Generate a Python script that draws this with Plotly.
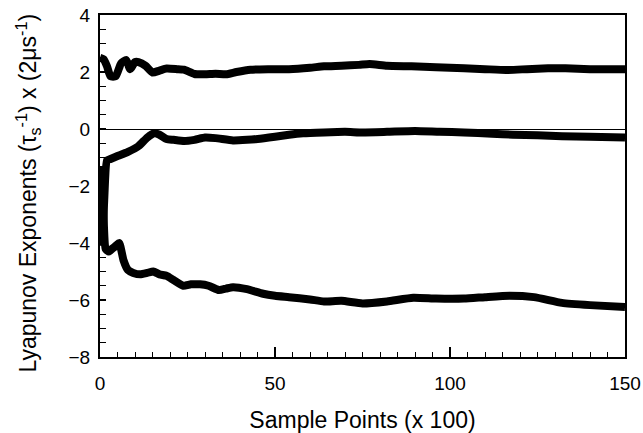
import plotly.graph_objects as go

# Sample index (x 100) and the three Lyapunov exponent estimates
x_l1 = [0, 1, 2, 3, 4.5, 6, 7.5, 8.6, 10, 11, 13, 15, 17, 19, 22, 24, 27, 30, 33, 36,
        39, 43, 48, 54, 60, 64, 69, 74, 77, 82, 89, 96, 104, 110, 116, 122, 128, 133, 140, 150]
y_l1 = [2.5, 2.45, 2.2, 1.85, 1.85, 2.3, 2.42, 2.1, 2.35, 2.35, 2.22, 1.98, 2.05, 2.12, 2.1,
        2.08, 1.93, 1.92, 1.94, 1.92, 2.0, 2.08, 2.1, 2.1, 2.15, 2.2, 2.22, 2.25, 2.28, 2.22,
        2.2, 2.17, 2.13, 2.1, 2.07, 2.1, 2.13, 2.13, 2.1, 2.1]

x_l2 = [0.6, 1.2, 2.0, 3, 5, 8, 11, 13.5, 15.5, 17, 19, 21, 24, 27, 30, 33, 38, 42, 45, 50,
        54, 58, 64, 70, 75, 82, 90, 97, 104, 112, 118, 125, 132, 140, 150]
y_l2 = [-4.1, -2.5, -1.1, -1.05, -0.95, -0.8, -0.6, -0.3, -0.15, -0.2, -0.35, -0.38, -0.42,
        -0.38, -0.3, -0.32, -0.4, -0.38, -0.35, -0.27, -0.2, -0.15, -0.12, -0.1, -0.12, -0.1,
        -0.07, -0.1, -0.12, -0.17, -0.2, -0.22, -0.25, -0.27, -0.3]

x_l3 = [0.6, 1.0, 1.6, 2.5, 3.5, 4.5, 5.5, 6.7, 8, 9.5, 11.5, 13.5, 15.2, 17, 19, 21, 23.8,
        26, 28.6, 31, 34, 36, 38, 42, 46.6, 50, 54, 60, 64, 69, 75, 82, 89.5, 96, 104, 110,
        117, 124, 132, 140, 150]
y_l3 = [-1.3, -3.0, -4.2, -4.3, -4.2, -4.1, -4.0, -4.6, -4.95, -5.05, -5.1, -5.05, -5.0,
        -5.1, -5.15, -5.3, -5.5, -5.45, -5.45, -5.5, -5.65, -5.6, -5.55, -5.62, -5.78, -5.85,
        -5.9, -5.98, -6.05, -6.03, -6.12, -6.05, -5.92, -5.95, -5.95, -5.9, -5.85, -5.9,
        -6.1, -6.18, -6.25]

x_ticks = [0, 50, 100, 150]
y_ticks = [4, 2, 0, -2, -4, -6, -8]

FONT = "Liberation Sans, Arial, sans-serif"
Y_TITLE = "Lyapunov Exponents (τ<sub>s</sub><sup>-1</sup>) x (2μs<sup>-1</sup>)"

fig = go.Figure()
for xs, ys in [(x_l1, y_l1), (x_l2, y_l2), (x_l3, y_l3)]:
    fig.add_trace(go.Scatter(x=xs, y=ys, mode="lines",
                             line=dict(color="black", width=8,
                                       shape="spline", smoothing=0.5),
                             showlegend=False))

fig.update_layout(
    width=643, height=433,
    margin=dict(l=100, r=18, t=15, b=76),
    paper_bgcolor="white", plot_bgcolor="white",
    font=dict(family=FONT, color="black", size=19),
)
fig.update_xaxes(
    range=[0, 150], tickvals=x_ticks, ticks="inside", ticklen=10, tickwidth=1.5,
    tickcolor="black", showline=True, linecolor="black", linewidth=2, mirror=True,
    showgrid=False, zeroline=False, ticklabelstandoff=8, automargin=False,
    minor=dict(dtick=5, ticks="inside", ticklen=5, tickwidth=1.2, tickcolor="black"),
    title=dict(text="Sample Points (x 100)", font=dict(size=23), standoff=20),
    tickfont=dict(size=19),
)
fig.update_yaxes(
    range=[-8, 4], tickvals=y_ticks, ticks="inside", ticklen=6, tickwidth=1.5,
    tickcolor="black", showline=True, linecolor="black", linewidth=2, mirror=True,
    showgrid=False, zeroline=True, zerolinecolor="black", zerolinewidth=1,
    ticklabelstandoff=4, automargin=False,
    minor=dict(dtick=0.5, ticks="inside", ticklen=6, tickwidth=1.2, tickcolor="black"),
    tickfont=dict(size=19),
)

# Vertical axis title placed as a rotated annotation, slightly below plot centre
fig.add_annotation(
    text=Y_TITLE, textangle=-90, showarrow=False,
    xref="paper", yref="paper", x=-0.139, y=0.478,
    xanchor="center", yanchor="middle",
    font=dict(size=23, family=FONT, color="black"),
)

fig.write_html("out.html")
